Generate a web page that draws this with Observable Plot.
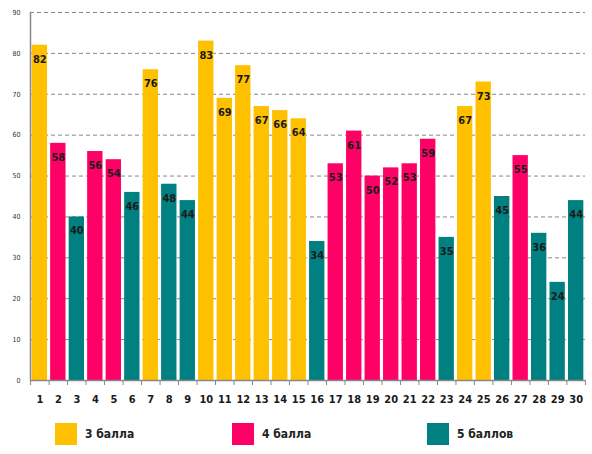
<!DOCTYPE html>
<html>
<head>
<meta charset="utf-8">
<script src="https://cdn.jsdelivr.net/npm/d3@7"></script>
<script src="https://cdn.jsdelivr.net/npm/@observablehq/plot@0.6"></script>
<style>
  body { margin: 0; background: white; }
  #wrap { position: relative; width: 592px; height: 454px; }
  .lg { position: absolute; top: 423px; display: flex; align-items: center;
        font: bold 12px "DejaVu Sans Condensed", "DejaVu Sans", sans-serif; color: #222; }
  .lg span.sw { display: inline-block; width: 22px; height: 22px; margin-right: 8px; }
</style>
</head>
<body>
<div id="wrap"><div id="chart"></div></div>
<script>
const tasks = d3.range(1, 31);
const scores = [82, 58, 40, 56, 54, 46, 76, 48, 44, 83, 69, 77, 67, 66, 64, 34, 53, 61, 50, 52, 53, 59, 35, 67, 73, 45, 55, 36, 24, 44];
const groups = ["3 балла", "4 балла", "5 баллов"];
const groupOf = [0, 1, 2, 1, 1, 2, 0, 2, 2, 0, 0, 0, 0, 0, 0, 2, 1, 1, 1, 1, 1, 1, 2, 0, 0, 2, 1, 2, 2, 2];
const colors = ["#FFC000", "#FF0066", "#008080"];
const yTicks = d3.range(0, 100, 10);

const data = tasks.map((t, i) => ({task: t, value: scores[i], group: groups[groupOf[i]]}));

const W = 592, H = 415, mL = 30, mR = 7;
const pIn = 0.17, pOut = 0.09;
const step = (W - mL - mR) / (tasks.length - pIn + 2 * pOut);

const chart = Plot.plot({
  width: W,
  height: H,
  marginTop: 12,
  marginBottom: 35,
  marginLeft: mL,
  marginRight: mR,
  style: {background: "white", fontFamily: "'DejaVu Sans Condensed', 'DejaVu Sans', sans-serif"},
  x: {domain: tasks, paddingInner: pIn, paddingOuter: pOut, round: false, label: null},
  y: {domain: [0, 90], label: null},
  color: {domain: groups, range: colors},
  marks: [
    Plot.ruleY(yTicks.filter(d => d > 0), {stroke: "#888", strokeDasharray: "4,3", strokeWidth: 1}),
    Plot.barY(data, {x: "task", y: "value", fill: "group"}),
    Plot.text(data, {x: "task", y: "value", text: d => String(d.value), dy: 14,
      fontWeight: "bold", fontSize: 11, fill: "#1a1a1a"}),
    Plot.ruleY([0], {stroke: "#888", strokeWidth: 1.5}),
    Plot.frame({anchor: "left", stroke: "#888", strokeWidth: 1.5}),
    Plot.ruleX(tasks, {x: d => d, dx: -step / 2, y1: 0, y2: 0, insetBottom: -5, stroke: "#888"}),
    Plot.ruleX([tasks[tasks.length - 1]], {x: d => d, dx: step / 2, y1: 0, y2: 0, insetBottom: -5, stroke: "#888"}),
    Plot.axisY(yTicks, {tickSize: 0, tickPadding: 10, fontSize: 7, fill: "#333", label: null}),
    Plot.axisX({tickSize: 0, tickPadding: 15, fontSize: 11, fontWeight: "bold", fill: "#1a1a1a", label: null})
  ]
});
document.getElementById("chart").append(chart);

const lx = [55, 232, 427];
groups.forEach((g, i) => {
  const div = document.createElement("div");
  div.className = "lg";
  div.style.left = lx[i] + "px";
  div.innerHTML = `<span class="sw" style="background:${colors[i]}"></span>${g}`;
  document.getElementById("wrap").append(div);
});
</script>
</body>
</html>
